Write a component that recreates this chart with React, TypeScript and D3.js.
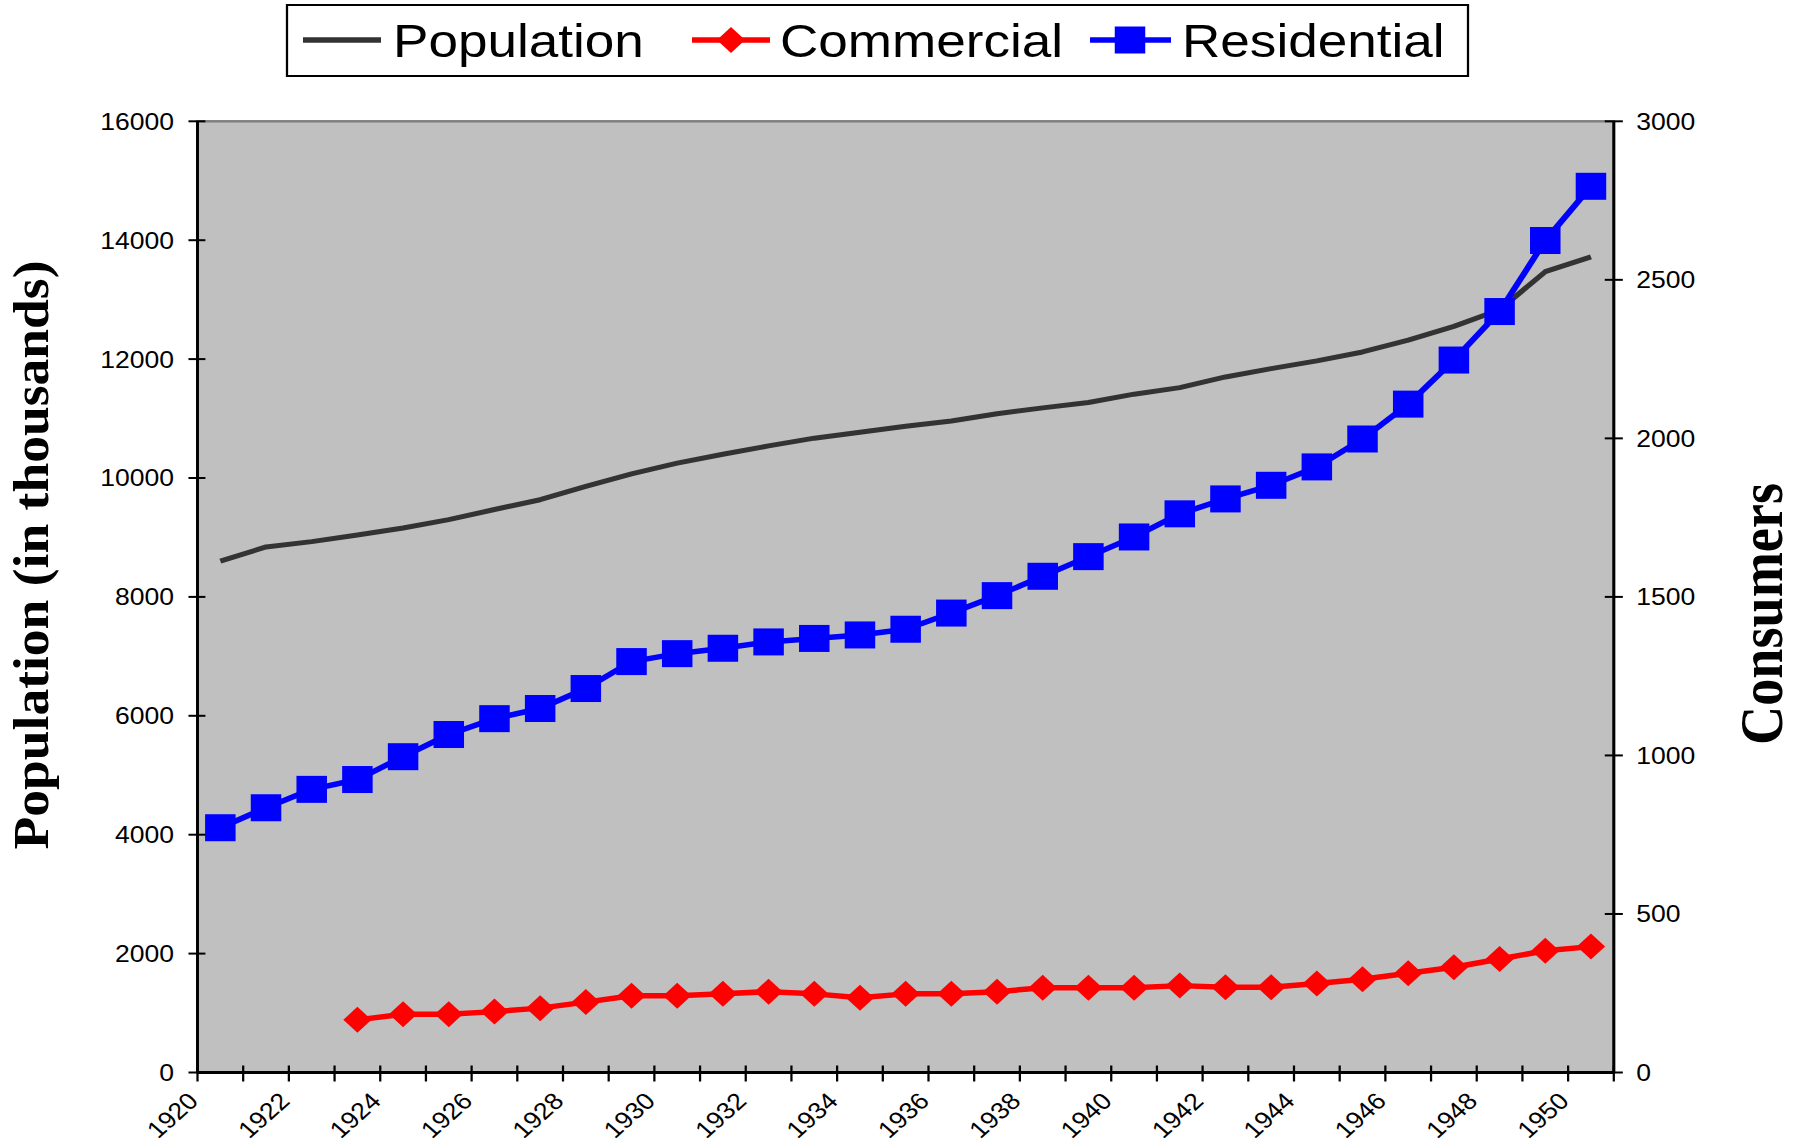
import React from "react";
import * as d3 from "d3";

const years: number[] = [1920, 1921, 1922, 1923, 1924, 1925, 1926, 1927, 1928, 1929, 1930, 1931, 1932, 1933, 1934, 1935, 1936, 1937, 1938, 1939, 1940, 1941, 1942, 1943, 1944, 1945, 1946, 1947, 1948, 1949, 1950];
const yearLabels: number[] = [1920, 1922, 1924, 1926, 1928, 1930, 1932, 1934, 1936, 1938, 1940, 1942, 1944, 1946, 1948, 1950];

const population: number[] = [8600, 8840, 8930, 9040, 9160, 9300, 9470, 9635, 9860, 10070, 10250, 10400, 10540, 10670, 10770, 10870, 10960, 11080, 11180, 11270, 11410, 11520, 11700, 11840, 11970, 12120, 12320, 12550, 12830, 13470, 13720];
const commercial: (number | null)[] = [null, null, null, 166, 184, 184, 192, 203, 222, 242, 242, 248, 255, 248, 236, 248, 248, 255, 267, 267, 267, 274, 269, 269, 281, 294, 313, 332, 358, 384, 397];
const residential: number[] = [772, 835, 893, 924, 996, 1066, 1116, 1148, 1211, 1296, 1321, 1338, 1358, 1369, 1380, 1398, 1449, 1504, 1565, 1627, 1689, 1762, 1809, 1852, 1910, 1998, 2108, 2247, 2400, 2624, 2795];

const leftTicks: number[] = [0, 2000, 4000, 6000, 8000, 10000, 12000, 14000, 16000];
const rightTicks: number[] = [0, 500, 1000, 1500, 2000, 2500, 3000];

const S = 1.13; // horizontal stretch of the original picture
const W = 1799;
const H = 1142;
const sans = "'Liberation Sans', Arial, Helvetica, sans-serif";
const serif = "'Liberation Serif', 'Times New Roman', serif";

const diamond = "M0,-13L12.5,0L0,13L-12.5,0Z";

export default function App() {
  const x = d3
    .scaleBand<number>()
    .domain(years)
    .range([197.5 / S, 1613.8 / S])
    .padding(0);
  const bw = x.bandwidth();
  const cx = (yr: number) => (x(yr) as number) + bw / 2;
  const yL = d3.scaleLinear().domain([0, 16000]).range([1072.5, 121.3]);
  const yR = d3.scaleLinear().domain([0, 3000]).range([1072.5, 121.3]);

  const x0 = x.range()[0];
  const x1 = x.range()[1];
  const yTop = yL(16000);
  const yBot = yL(0);

  const popLine = d3
    .line<number>()
    .x((_, i) => cx(years[i]))
    .y((d) => yL(d))(population) as string;
  const comLine = d3
    .line<number | null>()
    .defined((d) => d != null)
    .x((_, i) => cx(years[i]))
    .y((d) => yR(d as number))(commercial) as string;
  const resLine = d3
    .line<number>()
    .x((_, i) => cx(years[i]))
    .y((d) => yR(d))(residential) as string;

  const boundaries = [...years.map((yr) => x(yr) as number), x1];

  return (
    <svg
      width={W}
      height={H}
      style={{ position: "absolute", left: 0, top: 0, background: "#fff" }}
    >
      <g transform={`scale(${S},1)`}>
        {/* plot area */}
        <rect x={x0} y={yTop} width={x1 - x0} height={yBot - yTop} fill="#C0C0C0" stroke="#808080" strokeWidth={2.5} />

        {/* lines */}
        <path d={popLine} fill="none" stroke="#333333" strokeWidth={5} strokeLinejoin="round" />
        <path d={comLine} fill="none" stroke="#FF0000" strokeWidth={5.5} strokeLinejoin="round" />
        {commercial.map((v, i) =>
          v == null ? null : (
            <path key={"c" + i} d={diamond} transform={`translate(${cx(years[i])},${yR(v)})`} fill="#FF0000" />
          )
        )}
        <path d={resLine} fill="none" stroke="#0000FF" strokeWidth={5.5} strokeLinejoin="round" />
        {residential.map((v, i) => (
          <rect key={"r" + i} x={cx(years[i]) - 13.5} y={yR(v) - 13.5} width={27} height={27} fill="#0000FF" />
        ))}

        {/* axes */}
        <line x1={x0} x2={x0} y1={yTop} y2={yBot} stroke="#000" strokeWidth={2.6} />
        <line x1={x1} x2={x1} y1={yTop} y2={yBot} stroke="#000" strokeWidth={2.6} />
        <line x1={x0} x2={x1} y1={yBot} y2={yBot} stroke="#000" strokeWidth={2.8} />

        {leftTicks.map((t) => (
          <g key={"l" + t}>
            <line x1={x0 - 8} x2={x0 + 7} y1={yL(t)} y2={yL(t)} stroke="#000" strokeWidth={2} />
            <text x={154} y={yL(t)} dy="0.36em" textAnchor="end" fontFamily={sans} fontSize={23.5} fill="#000">
              {t}
            </text>
          </g>
        ))}
        {rightTicks.map((t) => (
          <g key={"rt" + t}>
            <line x1={x1 - 8} x2={x1 + 8} y1={yR(t)} y2={yR(t)} stroke="#000" strokeWidth={2} />
            <text x={1448} y={yR(t)} dy="0.36em" textAnchor="start" fontFamily={sans} fontSize={23.5} fill="#000">
              {t}
            </text>
          </g>
        ))}
        {boundaries.map((bx, i) => (
          <line key={"xt" + i} x1={bx} x2={bx} y1={yBot - 7} y2={yBot + 9} stroke="#000" strokeWidth={2} />
        ))}
        {yearLabels.map((yr) => {
          const bx = x(yr) as number;
          return (
            <text
              key={"xl" + yr}
              transform={`translate(${bx - 4},${yBot + 24}) rotate(-45)`}
              dy="0.36em"
              textAnchor="end"
              fontFamily={sans}
              fontSize={23.5}
              fill="#000"
            >
              {yr}
            </text>
          );
        })}

        {/* axis titles */}
        <text
          transform={`translate(${31 / S},555) rotate(-90)`}
          textAnchor="middle"
          dy="0.33em"
          fontFamily={serif}
          fontWeight="bold"
          fontSize={45}
          textLength={589}
          lengthAdjust="spacingAndGlyphs"
          fill="#000"
        >
          Population (in thousands)
        </text>
        <text
          transform={`translate(${1762 / S},614) rotate(-90)`}
          textAnchor="middle"
          dy="0.33em"
          fontFamily={serif}
          fontWeight="bold"
          fontSize={54}
          textLength={262}
          lengthAdjust="spacingAndGlyphs"
          fill="#000"
        >
          Consumers
        </text>

        {/* legend */}
        <rect x={287 / S} y={5} width={(1468 - 287) / S} height={71} fill="#fff" stroke="#000" strokeWidth={2} />
        <line x1={303 / S} x2={381 / S} y1={40} y2={40} stroke="#333333" strokeWidth={5.5} />
        <text x={393 / S} y={57.3} fontFamily={sans} fontSize={47} fill="#000">Population</text>
        <line x1={692 / S} x2={770 / S} y1={40} y2={40} stroke="#FF0000" strokeWidth={5.5} />
        <path d={diamond} transform={`translate(${731 / S},40)`} fill="#FF0000" />
        <text x={780 / S} y={57.3} fontFamily={sans} fontSize={47} fill="#000">Commercial</text>
        <line x1={1090 / S} x2={1171 / S} y1={40} y2={40} stroke="#0000FF" strokeWidth={5.5} />
        <rect x={1130 / S - 13.5} y={40 - 13.5} width={27} height={27} fill="#0000FF" />
        <text x={1182 / S} y={57.3} fontFamily={sans} fontSize={47} fill="#000">Residential</text>
      </g>
    </svg>
  );
}
